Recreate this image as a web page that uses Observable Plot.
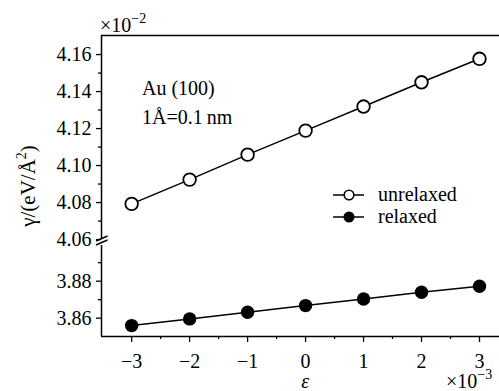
<!DOCTYPE html>
<html><head><meta charset="utf-8">
<script src="https://cdn.jsdelivr.net/npm/d3@7"></script>
<script src="https://cdn.jsdelivr.net/npm/@observablehq/plot@0.6"></script>
<style>body{margin:0;background:#fff} svg text{font-family:'Liberation Serif','Times New Roman',serif}</style>
</head><body><div id="chart"></div>
<script>
// ---- data (strain in units of 10^-3, γ in units of 10^-2 eV/Å²) ----
const strain = [-3, -2, -1, 0, 1, 2, 3];
const unrelaxed = [4.0793, 4.0924, 4.1059, 4.1189, 4.1319, 4.1450, 4.1577];
const relaxed = [3.8560, 3.8596, 3.8632, 3.8668, 3.8704, 3.8740, 3.8773];
const seriesNames = ["unrelaxed", "relaxed"];
const xTicks = [-3, -2, -1, 0, 1, 2, 3];
const xMinorTicks = [-2.5, -1.5, -0.5, 0.5, 1.5, 2.5];
const yTicks = [3.86, 3.88, 4.06, 4.08, 4.10, 4.12, 4.14, 4.16];
const yMinorTicks = [3.87, 3.89, 4.07, 4.09, 4.11, 4.13, 4.15];
const xDomain = [-3.52, 3.345];
const yLower = [3.8501, 3.8993];   // lower segment of the broken y axis
const yUpper = [4.06, 4.1703];     // upper segment
const GAP = 0.0032;                // visual gap at the axis break (in γ units)

// broken-axis folding: collapse the empty interval between the two segments
const shift = yUpper[0] - yLower[1] - GAP;
const fold = v => v >= yUpper[0] - 1e-6 ? v - shift : v;
const unfold = d => d > yLower[1] + GAP / 2 ? d + shift : d;

const rowsU = strain.map((s, i) => ({x: s, y: unrelaxed[i]}));
const rowsR = strain.map((s, i) => ({x: s, y: relaxed[i]}));

const W = 499, H = 391, mL = 101, mR = 0, mT = 35, mB = 55;
const FONT = "'Liberation Serif', 'Times New Roman', serif";
const minus = d => d < 0 ? "\u2212" + (-d) : String(d);
const f2 = d3.format(".2f");
const Y = d => fold(d.y);

const svg = Plot.plot({
  width: W, height: H,
  marginLeft: mL, marginRight: mR, marginTop: mT, marginBottom: mB,
  style: {fontFamily: FONT, fontSize: "20px", background: "#fff", color: "#000"},
  x: {domain: xDomain, axis: null},
  y: {domain: [yLower[0], fold(yUpper[1])], axis: null},
  marks: [
    Plot.ruleY([fold(yUpper[1])], {stroke: "#000", strokeWidth: 1.5}),
    Plot.ruleY([yLower[0]], {stroke: "#000", strokeWidth: 1.5}),
    Plot.ruleX([xDomain[0]], {y1: yLower[0], y2: yLower[1], stroke: "#000", strokeWidth: 1.5}),
    Plot.ruleX([xDomain[0]], {y1: fold(yUpper[0]), y2: fold(yUpper[1]), stroke: "#000", strokeWidth: 1.5}),
    Plot.axisY(yTicks.map(fold), {anchor: "left", tickSize: 5, tickPadding: 5, tickFormat: d => f2(unfold(d)), label: null, strokeWidth: 1.3, fontSize: 20, fontFamily: FONT}),
    Plot.axisY(yMinorTicks.map(fold), {anchor: "left", tickSize: 3, text: null, label: null, strokeWidth: 1.3}),
    Plot.axisX(xTicks, {anchor: "bottom", tickSize: 6, tickPadding: 11, tickFormat: minus, label: null, strokeWidth: 1.3, fontSize: 20, fontFamily: FONT}),
    Plot.axisX(xMinorTicks, {anchor: "bottom", tickSize: 3, text: null, label: null, strokeWidth: 1.3}),
    Plot.line(rowsU, {x: "x", y: Y, stroke: "#000", strokeWidth: 1.5}),
    Plot.line(rowsR, {x: "x", y: Y, stroke: "#000", strokeWidth: 1.5}),
    Plot.dot(rowsU, {x: "x", y: Y, r: 6.3, stroke: "#000", strokeWidth: 1.8, fill: "#fff"}),
    Plot.dot(rowsR, {x: "x", y: Y, r: 6.7, fill: "#000", stroke: "none"})
  ]
});
document.getElementById("chart").appendChild(svg);

// ---- decorations: break marks, labels, legend ----
const sx = svg.scale("x"), sy = svg.scale("y");
const g = d3.select(svg).append("g").attr("font-family", FONT).attr("fill", "#000")
  .attr("text-anchor", "start");
const ax = sx.apply(xDomain[0]);
const yb = sy.apply(yLower[1]), yt = sy.apply(fold(yUpper[0]));
[[yt + 2, yt - 3], [yb, yb - 5]].forEach(([a, b]) => {
  g.append("line").attr("x1", ax - 5).attr("y1", a).attr("x2", ax + 6.5).attr("y2", b)
    .attr("stroke", "#000").attr("stroke-width", 1.5);
});

function sup(el, base, exp, size, lift) {
  el.append("tspan").text(base);
  el.append("tspan").attr("font-size", size).attr("dy", -lift).text(exp);
}
// ×10^-2 (top left)
sup(g.append("text").attr("x", 100).attr("y", 32).attr("font-size", 20), "\u00d710", "\u22122", 14, 9);
// ×10^-3 (bottom right)
sup(g.append("text").attr("x", 446).attr("y", 388).attr("font-size", 20), "\u00d710", "\u22123", 14, 9);
// ε
g.append("text").attr("x", sx.apply(0)).attr("y", 388).attr("text-anchor", "middle")
  .attr("font-size", 20).attr("font-style", "italic").text("\u03b5");
// y label
const yl = g.append("text").attr("transform", "translate(35,186) rotate(-90)")
  .attr("text-anchor", "middle").attr("font-size", 21);
yl.append("tspan").text("\u03b3/(eV/\u00c5");
yl.append("tspan").attr("font-size", 14).attr("dy", -9).text("2");
yl.append("tspan").attr("dy", 9).text(")");
// annotations
g.append("text").attr("x", 142).attr("y", 95).attr("font-size", 20).text("Au (100)");
g.append("text").attr("x", 142).attr("y", 124).attr("font-size", 20).text("1\u00c5=0.1\u2009nm");
// legend
[[seriesNames[0], 195, false], [seriesNames[1], 217, true]].forEach(([name, y, filled]) => {
  g.append("line").attr("x1", 333).attr("x2", 364).attr("y1", y).attr("y2", y)
    .attr("stroke", "#000").attr("stroke-width", 1.5);
  g.append("circle").attr("cx", 349).attr("cy", y).attr("r", filled ? 5.5 : 4.8)
    .attr("fill", filled ? "#000" : "#fff").attr("stroke", filled ? "none" : "#000").attr("stroke-width", 1.6);
  g.append("text").attr("x", 378).attr("y", y + 6).attr("font-size", 20).text(name);
});
</script>
</body></html>
